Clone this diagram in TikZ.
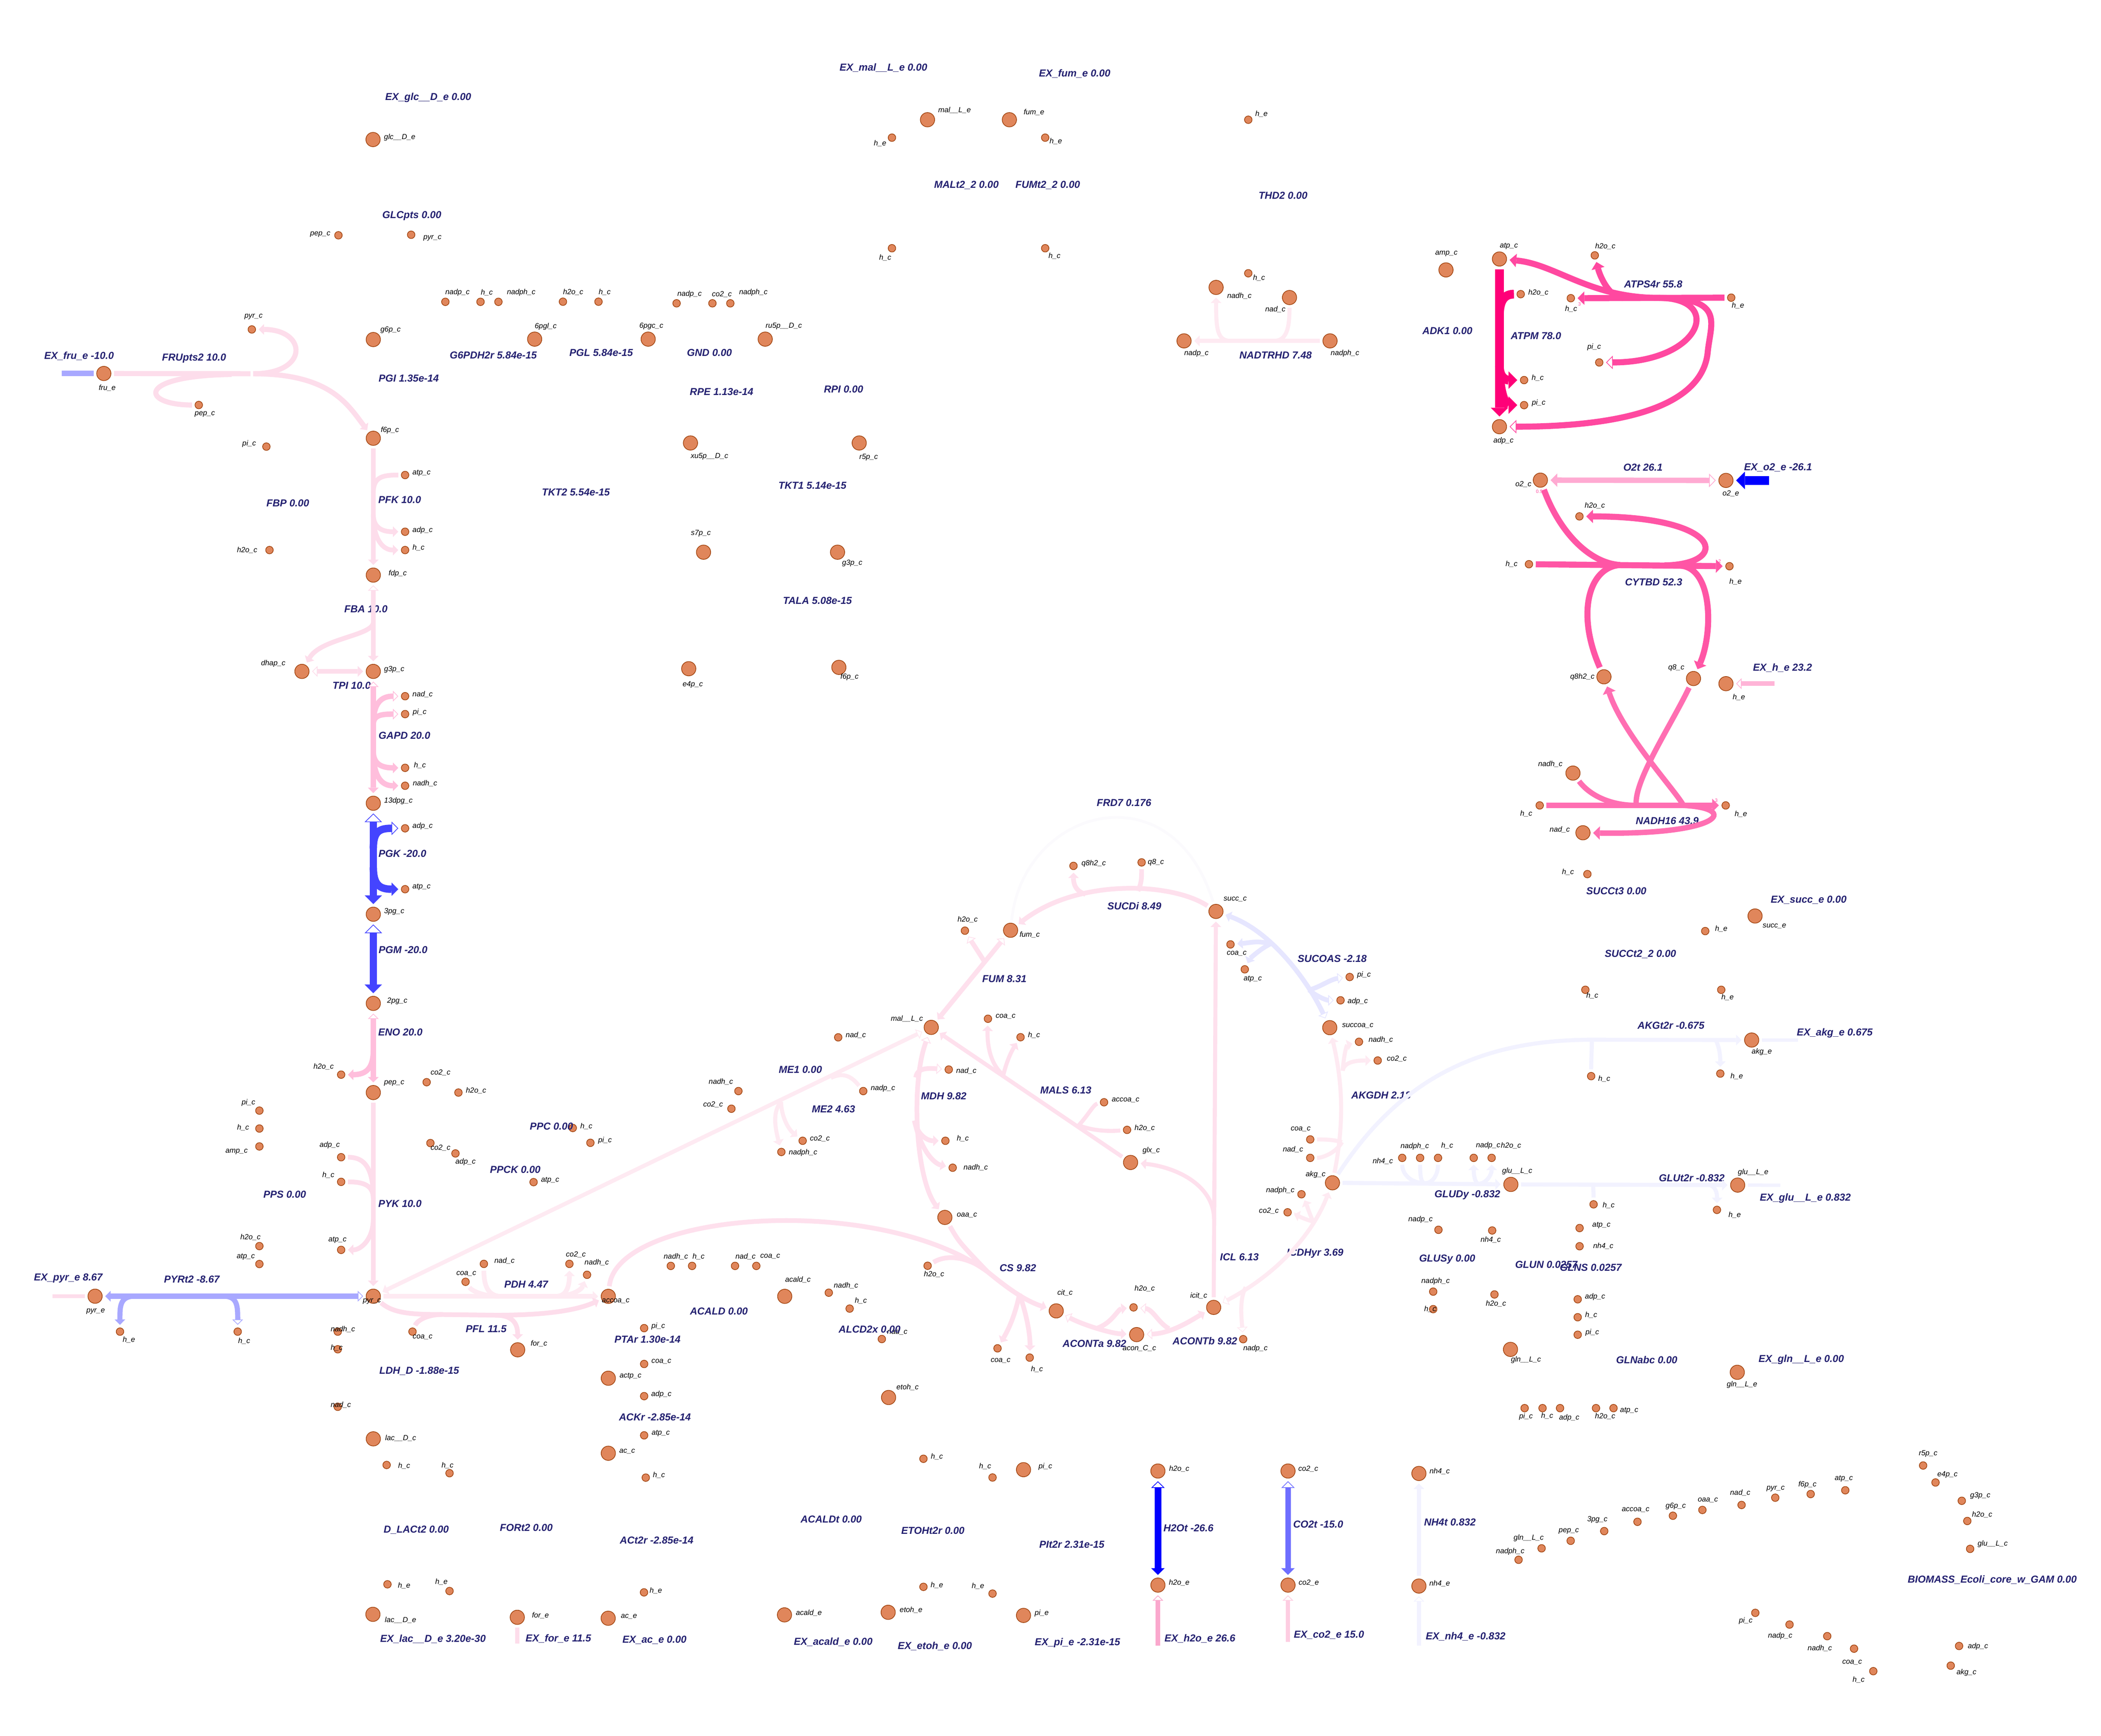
\documentclass[tikz,border=0pt]{standalone}
\usepackage{fontspec}
\setmainfont{Liberation Sans}
\usetikzlibrary{arrows.meta}

\definecolor{metfill}{RGB}{224,134,91}
\definecolor{metline}{RGB}{162,69,16}
\definecolor{rxntext}{RGB}{35,32,112}
\definecolor{pkA}{RGB}{253,221,235}
\definecolor{pkB}{RGB}{255,190,220}
\definecolor{pkC}{RGB}{254,234,242}
\definecolor{pkD}{RGB}{254,224,237}
\definecolor{lavA}{RGB}{168,168,255}
\definecolor{lavB}{RGB}{230,230,255}
\definecolor{lavC}{RGB}{242,242,255}
\definecolor{blueA}{RGB}{68,68,255}
\definecolor{blueB}{RGB}{0,0,255}
\definecolor{blueC}{RGB}{110,110,255}
\definecolor{dpink}{RGB}{255,0,120}
\definecolor{pinkATPS}{RGB}{255,72,160}
\definecolor{pinkCYT}{RGB}{255,85,165}
\definecolor{pinkNADH}{RGB}{255,110,178}
\definecolor{pinkO2}{RGB}{255,170,210}
\definecolor{pinkEXh}{RGB}{255,180,215}
\definecolor{pinkEXhtwo}{RGB}{250,168,205}
\definecolor{pinkEXco}{RGB}{253,205,225}
\definecolor{faint}{RGB}{251,250,253}

\tikzset{
  met/.style={circle, draw=metline, fill=metfill, line width=0.5pt, minimum size=10.6pt, inner sep=0pt},
  cof/.style={met, minimum size=5.6pt},
  mlab/.style={font=\fontsize{5.5}{6}\selectfont\itshape, inner sep=0pt},
  rlab/.style={font=\fontsize{7.5}{9}\selectfont\bfseries\itshape, text=rxntext, inner sep=0pt},
  stoich/.style={font=\fontsize{3.5}{4}\selectfont, text=pinkATPS, inner sep=0pt},
  rx/.style={line width=#1, shorten >=2pt},
  sgap/.style={shorten <=2pt},
  tipF/.tip={Triangle[length=4pt, width=8pt, line width=0pt]},
  tipO/.tip={Triangle[length=4pt, width=8pt, fill=white, line width=0.5pt]},
  tipFm/.tip={Triangle[length=5pt, width=10pt, line width=0pt]},
  tipOm/.tip={Triangle[length=5pt, width=10pt, fill=white, line width=0.5pt]},
  tipFb/.tip={Triangle[length=6.5pt, width=13pt, line width=0pt]},
  tipOb/.tip={Triangle[length=6.5pt, width=13pt, fill=white, line width=0.5pt]},
}

\begin{document}
\begin{tikzpicture}[x=1pt, y=-1pt]
  \def\gx{277.2}
  \fill[white] (0,0) rectangle (1560.1,1288.7);
  \useasboundingbox (0,0) rectangle (1560.1,1288.7);

  % Uptake section: nodes
  \node[met] (glcE) at (277,103.6) {}; \node[mlab] (glcE-t) at (296.8,101.9) {glc\_\_D\_e};
  \node[cof] (glc-pep) at (251.3,174.7) {}; \node[mlab] (glc-pep-t) at (237.8,173.9) {pep\_c};
  \node[cof] (glc-pyr) at (305.3,174.3) {}; \node[mlab] (glc-pyr-t) at (321.1,176.8) {pyr\_c};
  \node[met] (g6p) at (\gx,252.1) {}; \node[mlab] (g6p-t) at (290,245) {g6p\_c};
  \node[met] (fruE) at (77.1,277.3) {}; \node[mlab] (fruE-t) at (79.6,288) {fru\_e};
  \node[cof] (fru-pyr) at (187,244.6) {}; \node[mlab] (fru-pyr-t) at (188.3,235) {pyr\_c};
  \node[cof] (fru-pep) at (147.6,300.7) {}; \node[mlab] (fru-pep-t) at (152.1,307.4) {pep\_c};
  \node[met] (f6p) at (\gx,325.4) {}; \node[mlab] (f6p-t) at (289.5,319.5) {f6p\_c};
  \node[rlab] (exglc-r) at (318,72.6) {EX\_glc\_\_D\_e 0.00};
  \node[rlab] (glcpts-r) at (305.8,160.3) {GLCpts 0.00};
  \node[rlab] (exfru-r) at (58.7,264.3) {EX\_fru\_e -10.0};
  \node[rlab] (frupts-r) at (144.1,266) {FRUpts2 10.0};
  \node[rlab] (pgi-r) at (303.5,280.8) {PGI 1.35e-14};

  % Pentose phosphate section: nodes
  \node[cof] (g6pdh-nadp) at (330.7,224.1) {}; \node[mlab] (g6pdh-nadp-t) at (339.7,217.2) {nadp\_c};
  \node[cof] (g6pdh-h) at (356.8,224.1) {}; \node[mlab] (g6pdh-h-t) at (361.5,217.2) {h\_c};
  \node[cof] (g6pdh-nadph) at (370.1,224.1) {}; \node[mlab] (g6pdh-nadph-t) at (387,217.2) {nadph\_c};
  \node[cof] (pgl-h2o) at (418,224) {}; \node[mlab] (pgl-h2o-t) at (425.6,216.9) {h2o\_c};
  \node[cof] (pgl-h) at (444.4,224) {}; \node[mlab] (pgl-h-t) at (449,216.9) {h\_c};
  \node[cof] (gnd-nadp) at (502.4,225.2) {}; \node[mlab] (gnd-nadp-t) at (512,218.4) {nadp\_c};
  \node[cof] (gnd-co2) at (529,225.2) {}; \node[mlab] (gnd-co2-t) at (536,218.4) {co2\_c};
  \node[cof] (gnd-nadph) at (542.3,225.2) {}; \node[mlab] (gnd-nadph-t) at (559.4,217) {nadph\_c};
  \node[met] (pgl6) at (397,251.8) {}; \node[mlab] (pgl6-t) at (405.2,242.3) {6pgl\_c};
  \node[met] (pgc6) at (481.3,251.8) {}; \node[mlab] (pgc6-t) at (483.6,242.3) {6pgc\_c};
  \node[met] (ru5p) at (568.2,251.8) {}; \node[mlab] (ru5p-t) at (582,242.3) {ru5p\_\_D\_c};
  \node[met] (xu5p) at (512.7,328.9) {}; \node[mlab] (xu5p-t) at (526.8,338.9) {xu5p\_\_D\_c};
  \node[met] (r5p) at (638,328.9) {}; \node[mlab] (r5p-t) at (645,339.4) {r5p\_c};
  \node[met] (s7p) at (522.4,410) {}; \node[mlab] (s7p-t) at (520.4,396) {s7p\_c};
  \node[met] (tk-g3p) at (621.9,410) {}; \node[mlab] (tk-g3p-t) at (632.8,418) {g3p\_c};
  \node[met] (e4p) at (511.4,496.5) {}; \node[mlab] (e4p-t) at (514.4,508.4) {e4p\_c};
  \node[met] (ta-f6p) at (622.9,495.5) {}; \node[mlab] (ta-f6p-t) at (630.8,502.5) {f6p\_c};
  \node[rlab] (g6pdh-r) at (366.3,263.8) {G6PDH2r 5.84e-15};
  \node[rlab] (pgl-r) at (446.4,261.9) {PGL 5.84e-15};
  \node[rlab] (gnd-r) at (526.8,261.9) {GND 0.00};
  \node[rlab] (rpe-r) at (535.8,291) {RPE 1.13e-14};
  \node[rlab] (rpi-r) at (626.4,289) {RPI 0.00};
  \node[rlab] (tkt2-r) at (427.6,365.3) {TKT2 5.54e-15};
  \node[rlab] (tkt1-r) at (603.3,360.5) {TKT1 5.14e-15};
  \node[rlab] (tala-r) at (607,445.8) {TALA 5.08e-15};

  % Malate and fumarate exchange: nodes
  \node[met] (malE) at (688.7,88.9) {}; \node[mlab] (malE-t) at (708.8,81.8) {mal\_\_L\_e};
  \node[cof] (malt-he) at (662.3,102.2) {}; \node[mlab] (malt-he-t) at (653.5,106.5) {h\_e};
  \node[met] (fumE) at (749.5,88.9) {}; \node[mlab] (fumE-t) at (767.8,83.4) {fum\_e};
  \node[cof] (fumt-he) at (776.1,102.2) {}; \node[mlab] (fumt-he-t) at (784,105) {h\_e};
  \node[cof] (malt-hc) at (662.3,184.3) {}; \node[mlab] (malt-hc-t) at (657.3,191.3) {h\_c};
  \node[cof] (fumt-hc) at (776.1,184.3) {}; \node[mlab] (fumt-hc-t) at (783,190) {h\_c};
  \node[rlab] (exmal-r) at (656,50.2) {EX\_mal\_\_L\_e 0.00};
  \node[rlab] (exfum-r) at (798,54.7) {EX\_fum\_e 0.00};
  \node[rlab] (malt-r) at (717.6,137.6) {MALt2\_2 0.00};
  \node[rlab] (fumt-r) at (778,137.6) {FUMt2\_2 0.00};

  % Energy section: nodes
  \node[cof] (thd-he) at (926.9,88.9) {}; \node[mlab] (thd-he-t) at (936.7,84.6) {h\_e};
  \node[cof] (thd-hc) at (926.9,202.9) {}; \node[mlab] (thd-hc-t) at (934.9,206.4) {h\_c};
  \node[met] (nadh) at (903,213.4) {}; \node[mlab] (nadh-t) at (920.3,219.7) {nadh\_c};
  \node[met] (nad) at (957.5,220.9) {}; \node[mlab] (nad-t) at (947,229.7) {nad\_c};
  \node[met] (nadp) at (879.2,253.1) {}; \node[mlab] (nadp-t) at (888.4,262.4) {nadp\_c};
  \node[met] (nadph) at (987.6,253.1) {}; \node[mlab] (nadph-t) at (998.7,262.4) {nadph\_c};
  \node[met] (amp) at (1073.7,200.4) {}; \node[mlab] (amp-t) at (1074,188.3) {amp\_c};
  \node[met] (atp) at (1113.4,192.3) {}; \node[mlab] (atp-t) at (1120.4,182.8) {atp\_c};
  \node[cof] (atpm-h2o) at (1129.2,218.4) {}; \node[mlab] (atpm-h2o-t) at (1142.3,217.2) {h2o\_c};
  \node[cof] (atpm-h) at (1131.7,282.2) {}; \node[mlab] (atpm-h-t) at (1141.8,280.7) {h\_c};
  \node[cof] (atpm-pi) at (1131.7,300.8) {}; \node[mlab] (atpm-pi-t) at (1142.5,299.3) {pi\_c};
  \node[met] (adp) at (1113.4,316.8) {}; \node[mlab] (adp-t) at (1116.4,327.4) {adp\_c};
  \node[cof] (atps-h2o) at (1184.2,189.6) {}; \node[mlab] (atps-h2o-t) at (1192,182.8) {h2o\_c};
  \node[cof] (atps-hc) at (1166.4,221.4) {}; \node[mlab] (atps-hc-t) at (1166.6,229.5) {h\_c};
  \node[cof] (atps-pi) at (1187.5,269.1) {}; \node[mlab] (atps-pi-t) at (1183.7,257.8) {pi\_c};
  \node[cof] (atps-he) at (1285.5,221) {}; \node[mlab] (atps-he-t) at (1290.5,227) {h\_e};
  \node[stoich] (atps-n) at (1172.9,225.7) {3};
  \node[rlab] (thd-r) at (952.7,145.1) {THD2 0.00};
  \node[rlab] (ntr-r) at (947.2,263.6) {NADTRHD 7.48};
  \node[rlab] (adk-r) at (1074.8,245.5) {ADK1 0.00};
  \node[rlab] (atpm-r) at (1140.5,249.3) {ATPM 78.0};
  \node[rlab] (atps-r-t) at (1227.6,211.1) {ATPS4r 55.8};

  % Respiration section: nodes
  \node[met] (o2C) at (1143.8,356.5) {}; \node[mlab] (o2C-t) at (1131.2,359.5) {o2\_c};
  \node[stoich] (o2-n) at (1143,365) {0.5};
  \node[met] (o2E) at (1281.6,356.7) {}; \node[mlab] (o2E-t) at (1285.2,366.5) {o2\_e};
  \node[cof] (cyt-h2o) at (1172.8,383.4) {}; \node[mlab] (cyt-h2o-t) at (1184.2,375.3) {h2o\_c};
  \node[cof] (cyt-hc) at (1135.3,418.9) {}; \node[mlab] (cyt-hc-t) at (1122.4,418.9) {h\_c};
  \node[cof] (cyt-he) at (1284.2,420.4) {}; \node[mlab] (cyt-he-t) at (1288.7,432) {h\_e};
  \node[stoich] (cyt-n) at (1276.9,416.7) {2};
  \node[met] (q8h2) at (1191,502.5) {}; \node[mlab] (q8h2-t) at (1175,502.5) {q8h2\_c};
  \node[met] (q8) at (1257.5,503.8) {}; \node[mlab] (q8-t) at (1244.7,496) {q8\_c};
  \node[met] (hE) at (1281.6,507.6) {}; \node[mlab] (hE-t) at (1291.2,517.6) {h\_e};
  \node[met] (nadh16-nadh) at (1168,574) {}; \node[mlab] (nadh16-nadh-t) at (1151.2,567.2) {nadh\_c};
  \node[cof] (nadh16-hc) at (1143.3,598) {}; \node[mlab] (nadh16-hc-t) at (1133.3,604) {h\_c};
  \node[met] (nadh16-nad) at (1175.4,618.3) {}; \node[mlab] (nadh16-nad-t) at (1158.2,616) {nad\_c};
  \node[cof] (nadh16-he) at (1281.4,598) {}; \node[mlab] (nadh16-he-t) at (1292.7,604.5) {h\_e};
  \node[stoich] (nadh16-n) at (1274.4,594.3) {3};
  \node[rlab] (o2t-r) at (1220,347.1) {O2t 26.1};
  \node[rlab] (exo2-r) at (1320.3,347.1) {EX\_o2\_e -26.1};
  \node[rlab] (cyt-r) at (1227.9,432.2) {CYTBD 52.3};
  \node[rlab] (exh-r) at (1323.6,496) {EX\_h\_e 23.2};
  \node[rlab] (nadh16-r) at (1238,609.3) {NADH16 43.9};

  % Organic acid transport: nodes
  \node[cof] (succt3-hc) at (1178.7,649) {}; \node[mlab] (succt3-hc-t) at (1164.3,647.4) {h\_c};
  \node[met] (succE) at (1303.2,680.1) {}; \node[mlab] (succE-t) at (1317.6,687.6) {succ\_e};
  \node[cof] (succt3-he) at (1266.2,691.3) {}; \node[mlab] (succt3-he-t) at (1278.1,689.7) {h\_e};
  \node[cof] (succt2-hc) at (1177.2,734.9) {}; \node[mlab] (succt2-hc-t) at (1182.3,739.3) {h\_c};
  \node[cof] (succt2-he) at (1278.1,734.9) {}; \node[mlab] (succt2-he-t) at (1282.8,740.6) {h\_e};
  \node[met] (akgE) at (1300.7,772.2) {}; \node[mlab] (akgE-t) at (1308.2,781) {akg\_e};
  \node[cof] (akgt-hc) at (1181.5,799) {}; \node[mlab] (akgt-hc-t) at (1191.2,801) {h\_c};
  \node[cof] (akgt-he) at (1277.4,797.1) {}; \node[mlab] (akgt-he-t) at (1289.6,799) {h\_e};
  \node[rlab] (succt3-r) at (1200.2,661.4) {SUCCt3 0.00};
  \node[rlab] (exsucc-r) at (1343,668.2) {EX\_succ\_e 0.00};
  \node[rlab] (succt2-r) at (1218.1,708.4) {SUCCt2\_2 0.00};
  \node[rlab] (akgt-r) at (1240.8,761.3) {AKGt2r -0.675};
  \node[rlab] (exakg-r) at (1362.4,767) {EX\_akg\_e 0.675};

  % Glycolysis section: nodes
  \node[cof] (fbp-pi) at (197.8,331.6) {}; \node[mlab] (fbp-pi-t) at (185,329.6) {pi\_c};
  \node[cof] (fbp-h2o) at (200.1,408.4) {}; \node[mlab] (fbp-h2o-t) at (183.5,408.4) {h2o\_c};
  \node[cof] (pfk-atp) at (300.8,352.7) {}; \node[mlab] (pfk-atp-t) at (313,351.2) {atp\_c};
  \node[cof] (pfk-adp) at (300.8,394.8) {}; \node[mlab] (pfk-adp-t) at (313.8,393.6) {adp\_c};
  \node[cof] (pfk-h) at (300.8,408.4) {}; \node[mlab] (pfk-h-t) at (310.8,406.6) {h\_c};
  \node[met] (fdp) at (\gx,427) {}; \node[mlab] (fdp-t) at (295.3,426) {fdp\_c};
  \node[met] (dhap) at (224.2,498.5) {}; \node[mlab] (dhap-t) at (202.9,492.8) {dhap\_c};
  \node[met] (g3p) at (\gx,498.5) {}; \node[mlab] (g3p-t) at (292.7,497) {g3p\_c};
  \node[cof] (gapd-nad) at (300.8,516.9) {}; \node[mlab] (gapd-nad-t) at (313.8,515.4) {nad\_c};
  \node[cof] (gapd-pi) at (300.8,530.2) {}; \node[mlab] (gapd-pi-t) at (311.6,528.7) {pi\_c};
  \node[cof] (gapd-h) at (300.8,570.1) {}; \node[mlab] (gapd-h-t) at (311.8,568.3) {h\_c};
  \node[cof] (gapd-nadh) at (300.8,583.4) {}; \node[mlab] (gapd-nadh-t) at (315.6,581.6) {nadh\_c};
  \node[met] (dpg13) at (\gx,596.4) {}; \node[mlab] (dpg13-t) at (295.8,594.7) {13dpg\_c};
  \node[cof] (pgk-adp) at (300.8,615) {}; \node[mlab] (pgk-adp-t) at (313.8,613.5) {adp\_c};
  \node[cof] (pgk-atp) at (300.8,660.2) {}; \node[mlab] (pgk-atp-t) at (313,658.7) {atp\_c};
  \node[met] (pg3) at (\gx,678.8) {}; \node[mlab] (pg3-t) at (292.7,676.8) {3pg\_c};
  \node[met] (pg2) at (\gx,745) {}; \node[mlab] (pg2-t) at (295,743.2) {2pg\_c};
  \node[cof] (eno-h2o) at (253.3,797.9) {}; \node[mlab] (eno-h2o-t) at (240.3,791.9) {h2o\_c};
  \node[met] (pep) at (\gx,811.2) {}; \node[mlab] (pep-t) at (292.7,804.2) {pep\_c};
  \node[rlab] (fbp-r) at (213.7,373.5) {FBP 0.00};
  \node[rlab] (pfk-r) at (296.8,371.2) {PFK 10.0};
  \node[rlab] (fba-r) at (271.7,452.3) {FBA 10.0};
  \node[rlab] (tpi-r) at (261.1,509) {TPI 10.0};
  \node[rlab] (gapd-r) at (300.3,546.2) {GAPD 20.0};
  \node[rlab] (pgk-r) at (298.8,633.9) {PGK -20.0};
  \node[rlab] (pgm-r) at (299.3,705.1) {PGM -20.0};
  \node[rlab] (eno-r) at (297.3,766.3) {ENO 20.0};

  % Pyruvate section: nodes
  \node[cof] (ppc-co2) at (316.8,803.5) {}; \node[mlab] (ppc-co2-t) at (327.1,796.4) {co2\_c};
  \node[cof] (ppc-h2o) at (340.4,811.2) {}; \node[mlab] (ppc-h2o-t) at (353.5,809.7) {h2o\_c};
  \node[cof] (ppc-h) at (425.3,837.5) {}; \node[mlab] (ppc-h-t) at (435.4,836.2) {h\_c};
  \node[cof] (ppc-pi) at (438.4,848.5) {}; \node[mlab] (ppc-pi-t) at (449.2,846.8) {pi\_c};
  \node[cof] (ppck-co2) at (319.6,848.7) {}; \node[mlab] (ppck-co2-t) at (327.1,852.2) {co2\_c};
  \node[cof] (ppck-adp) at (338.2,856.4) {}; \node[mlab] (ppck-adp-t) at (345.7,862.7) {adp\_c};
  \node[cof] (ppck-atp) at (396.2,877.7) {}; \node[mlab] (ppck-atp-t) at (408.5,876.2) {atp\_c};
  \node[cof] (pps-pi) at (192.6,824.6) {}; \node[mlab] (pps-pi-t) at (184.5,818.8) {pi\_c};
  \node[cof] (pps-h) at (192.6,837.9) {}; \node[mlab] (pps-h-t) at (180.5,837.1) {h\_c};
  \node[cof] (pps-amp) at (192.6,851.2) {}; \node[mlab] (pps-amp-t) at (175.7,855) {amp\_c};
  \node[cof] (pps-h2o) at (192.6,925.2) {}; \node[mlab] (pps-h2o-t) at (186,918.7) {h2o\_c};
  \node[cof] (pps-atp) at (192.6,938.5) {}; \node[mlab] (pps-atp-t) at (182.5,933) {atp\_c};
  \node[cof] (pyk-adp) at (253.3,859.2) {}; \node[mlab] (pyk-adp-t) at (244.8,850.2) {adp\_c};
  \node[cof] (pyk-h) at (253.3,877.5) {}; \node[mlab] (pyk-h-t) at (243.8,872.5) {h\_c};
  \node[cof] (pyk-atp) at (253.3,928) {}; \node[mlab] (pyk-atp-t) at (250.6,920.7) {atp\_c};
  \node[met] (pyr) at (\gx,962.4) {}; \node[mlab] (pyr-t) at (276.2,966.2) {pyr\_c};
  \node[met] (pyrE) at (70.6,962.4) {}; \node[mlab] (pyrE-t) at (71,973.7) {pyr\_e};
  \node[cof] (pyrt-he) at (89.1,988.7) {}; \node[mlab] (pyrt-he-t) at (95.7,994.8) {h\_e};
  \node[cof] (pyrt-hc) at (176.5,988.7) {}; \node[mlab] (pyrt-hc-t) at (181.3,995.8) {h\_c};
  \node[cof] (ldh-nadh) at (250.8,988.7) {}; \node[mlab] (ldh-nadh-t) at (254.6,987) {nadh\_c};
  \node[cof] (ldh-h) at (250.8,1001.8) {}; \node[mlab] (ldh-h-t) at (250,1000.8) {h\_c};
  \node[cof] (ldh-nad) at (250.8,1044.5) {}; \node[mlab] (ldh-nad-t) at (253.1,1043) {nad\_c};
  \node[met] (lac) at (\gx,1068.3) {}; \node[mlab] (lac-t) at (297.5,1067.8) {lac\_\_D\_c};
  \node[cof] (dlac-hc) at (287.1,1087.7) {}; \node[mlab] (dlac-hc-t) at (300.1,1088.5) {h\_c};
  \node[cof] (fort-hc) at (333.8,1093.8) {}; \node[mlab] (fort-hc-t) at (332.3,1087.9) {h\_c};
  \node[cof] (dlac-he) at (287.7,1176.3) {}; \node[mlab] (dlac-he-t) at (300.1,1177.4) {h\_e};
  \node[cof] (fort-he) at (333.8,1181.3) {}; \node[mlab] (fort-he-t) at (327.8,1174.5) {h\_e};
  \node[met] (lacE) at (276.9,1198.6) {}; \node[mlab] (lacE-t) at (297.4,1202.8) {lac\_\_D\_e};
  \node[cof] (pfl-coa) at (306.3,988.7) {}; \node[mlab] (pfl-coa-t) at (313.8,992.8) {coa\_c};
  \node[met] (forC) at (384.4,1002.2) {}; \node[mlab] (forC-t) at (400.2,997.7) {for\_c};
  \node[met] (forE) at (384.1,1200.8) {}; \node[mlab] (forE-t) at (401.3,1199.3) {for\_e};
  \node[rlab] (ppc-r) at (409.5,836.2) {PPC 0.00};
  \node[rlab] (ppck-r) at (382.6,868.4) {PPCK 0.00};
  \node[rlab] (pps-r) at (211.4,886.8) {PPS 0.00};
  \node[rlab] (pyk-r) at (297,893.6) {PYK 10.0};
  \node[rlab] (expyr-r) at (50.7,949.1) {EX\_pyr\_e 8.67};
  \node[rlab] (pyrt-r) at (142.4,949.8) {PYRt2 -8.67};
  \node[rlab] (ldh-r) at (311.3,1018.1) {LDH\_D -1.88e-15};
  \node[rlab] (dlac-r) at (309.1,1135.9) {D\_LACt2 0.00};
  \node[rlab] (fort-r) at (390.8,1134.2) {FORt2 0.00};
  \node[rlab] (exlac-r) at (321.5,1217) {EX\_lac\_\_D\_e 3.20e-30};
  \node[rlab] (exfor-r) at (414.6,1216.6) {EX\_for\_e 11.5};

  % Fermentation section: nodes
  \node[cof] (pdh-coa) at (345.7,951.7) {}; \node[mlab] (pdh-coa-t) at (346.2,945.6) {coa\_c};
  \node[cof] (pdh-nad) at (359.3,938.4) {}; \node[mlab] (pdh-nad-t) at (374.6,936.2) {nad\_c};
  \node[cof] (pdh-co2) at (422.8,938.4) {}; \node[mlab] (pdh-co2-t) at (427.6,931.6) {co2\_c};
  \node[cof] (pdh-nadh) at (435.9,946.5) {}; \node[mlab] (pdh-nadh-t) at (443.1,937.2) {nadh\_c};
  \node[met] (accoa) at (451.7,962.5) {}; \node[mlab] (accoa-t) at (457.2,965.8) {accoa\_c};
  \node[cof] (pta-pi) at (478.3,986.1) {}; \node[mlab] (pta-pi-t) at (488.8,984.6) {pi\_c};
  \node[cof] (pta-coa) at (478.3,1012.7) {}; \node[mlab] (pta-coa-t) at (491.1,1011) {coa\_c};
  \node[met] (actp) at (451.7,1023.3) {}; \node[mlab] (actp-t) at (468.2,1021.8) {actp\_c};
  \node[cof] (ack-adp) at (478.3,1036.6) {}; \node[mlab] (ack-adp-t) at (491.1,1035.1) {adp\_c};
  \node[cof] (ack-atp) at (478.3,1065.7) {}; \node[mlab] (ack-atp-t) at (490.6,1064.2) {atp\_c};
  \node[met] (acC) at (451.7,1079) {}; \node[mlab] (acC-t) at (465.7,1077.5) {ac\_c};
  \node[cof] (act-hc) at (479.5,1097.1) {}; \node[mlab] (act-hc-t) at (489.3,1095.3) {h\_c};
  \node[cof] (act-he) at (478.2,1182.3) {}; \node[mlab] (act-he-t) at (487,1181) {h\_e};
  \node[met] (acE) at (451.6,1201.5) {}; \node[mlab] (acE-t) at (467,1200.4) {ac\_e};
  \node[cof] (acald-nadh) at (498.1,939.9) {}; \node[mlab] (acald-nadh-t) at (501.9,932.9) {nadh\_c};
  \node[cof] (acald-h) at (513.9,939.9) {}; \node[mlab] (acald-h-t) at (518.7,932.9) {h\_c};
  \node[cof] (acald-nad) at (545.8,939.9) {}; \node[mlab] (acald-nad-t) at (553.6,932.9) {nad\_c};
  \node[cof] (acald-coa) at (561.6,939.9) {}; \node[mlab] (acald-coa-t) at (571.9,932.9) {coa\_c};
  \node[met] (acald) at (582.7,962.5) {}; \node[mlab] (acald-t) at (592.5,950.2) {acald\_c};
  \node[cof] (alcd-nadh) at (615.4,959.8) {}; \node[mlab] (alcd-nadh-t) at (628.2,954.5) {nadh\_c};
  \node[cof] (alcd-h) at (630.9,971.6) {}; \node[mlab] (alcd-h-t) at (639.2,965.8) {h\_c};
  \node[cof] (alcd-nad) at (654.8,994.2) {}; \node[mlab] (alcd-nad-t) at (666.3,988.9) {nad\_c};
  \node[met] (etoh) at (659.8,1037.6) {}; \node[mlab] (etoh-t) at (673.9,1030.1) {etoh\_c};
  \node[met] (acaldE) at (582.5,1199) {}; \node[mlab] (acaldE-t) at (600.6,1197.5) {acald\_e};
  \node[cof] (etoht-hc) at (685.7,1083.1) {}; \node[mlab] (etoht-hc-t) at (695.7,1081.6) {h\_c};
  \node[cof] (etoht-he) at (685.7,1178.2) {}; \node[mlab] (etoht-he-t) at (695.7,1177.1) {h\_e};
  \node[met] (etohE) at (659.5,1197.1) {}; \node[mlab] (etohE-t) at (676.5,1195.5) {etoh\_e};
  \node[cof] (pit-hc) at (737,1097) {}; \node[mlab] (pit-hc-t) at (731.5,1088.6) {h\_c};
  \node[met] (piC) at (760,1091.2) {}; \node[mlab] (piC-t) at (776.2,1089) {pi\_c};
  \node[cof] (pit-he) at (737,1183.2) {}; \node[mlab] (pit-he-t) at (726.2,1177.6) {h\_e};
  \node[met] (piE) at (760,1199.4) {}; \node[mlab] (piE-t) at (773.5,1197.9) {pi\_e};
  \node[met] (h2oC) at (859.8,1092.2) {}; \node[mlab] (h2oC-t) at (875.6,1090.5) {h2o\_c};
  \node[met] (h2oE) at (859.8,1176.9) {}; \node[mlab] (h2oE-t) at (875.6,1175.2) {h2o\_e};
  \node[met] (co2C) at (956.4,1092.2) {}; \node[mlab] (co2C-t) at (971.4,1090.5) {co2\_c};
  \node[met] (co2E) at (956.4,1176.9) {}; \node[mlab] (co2E-t) at (971.8,1175.2) {co2\_e};
  \node[met] (nh4C) at (1053.6,1094) {}; \node[mlab] (nh4C-t) at (1069,1092.3) {nh4\_c};
  \node[met] (nh4E) at (1053.6,1177.6) {}; \node[mlab] (nh4E-t) at (1069,1175.8) {nh4\_e};
  \node[rlab] (pdh-r) at (390.7,953.5) {PDH 4.47};
  \node[rlab] (pfl-r) at (361,986.7) {PFL 11.5};
  \node[rlab] (pta-r) at (480.8,994.4) {PTAr 1.30e-14};
  \node[rlab] (ack-r) at (486.3,1052.2) {ACKr -2.85e-14};
  \node[rlab] (act-r) at (487.6,1143.6) {ACt2r -2.85e-14};
  \node[rlab] (exac-r) at (486,1217.6) {EX\_ac\_e 0.00};
  \node[rlab] (acald-r) at (533.8,973.6) {ACALD 0.00};
  \node[rlab] (alcd-r) at (645.7,986.9) {ALCD2x 0.00};
  \node[rlab] (acaldt-r) at (617.2,1128) {ACALDt 0.00};
  \node[rlab] (etoht-r) at (692.7,1136.4) {ETOHt2r 0.00};
  \node[rlab] (pit-r) at (795.9,1146.6) {PIt2r 2.31e-15};
  \node[rlab] (h2ot-r) at (882.5,1134.5) {H2Ot -26.6};
  \node[rlab] (co2t-r) at (978.8,1131.7) {CO2t -15.0};
  \node[rlab] (nh4t-r) at (1076.6,1130.3) {NH4t 0.832};
  \node[rlab] (exacald-r) at (618.7,1219.1) {EX\_acald\_e 0.00};
  \node[rlab] (exetoh-r) at (694.2,1222.2) {EX\_etoh\_e 0.00};
  \node[rlab] (expi-r) at (800.1,1219.8) {EX\_pi\_e -2.31e-15};
  \node[rlab] (exh2o-r) at (891,1216.6) {EX\_h2o\_e 26.6};
  \node[rlab] (exco2-r) at (986.8,1214) {EX\_co2\_e 15.0};
  \node[rlab] (exnh4-r) at (1088.3,1215.2) {EX\_nh4\_e -0.832};

  % TCA section: nodes
  \node[cof] (me1-nad) at (622.4,770.2) {}; \node[mlab] (me1-nad-t) at (635.5,768.5) {nad\_c};
  \node[cof] (me1-nadh) at (548.3,810.1) {}; \node[mlab] (me1-nadh-t) at (535.3,803.1) {nadh\_c};
  \node[cof] (me1-co2) at (543.1,823.2) {}; \node[mlab] (me1-co2-t) at (529.5,820.2) {co2\_c};
  \node[cof] (me2-nadp) at (641,810.1) {}; \node[mlab] (me2-nadp-t) at (655.6,808.1) {nadp\_c};
  \node[cof] (me2-co2) at (596,847) {}; \node[mlab] (me2-co2-t) at (608.8,845.3) {co2\_c};
  \node[cof] (me2-nadph) at (580.2,855.3) {}; \node[mlab] (me2-nadph-t) at (596.3,855.8) {nadph\_c};
  \node[met] (mal) at (691.5,762.8) {}; \node[mlab] (mal-t) at (673.4,756.4) {mal\_\_L\_c};
  \node[cof] (mdh-nad) at (704.5,794.1) {}; \node[mlab] (mdh-nad-t) at (717.5,795.1) {nad\_c};
  \node[cof] (mdh-h) at (702,847) {}; \node[mlab] (mdh-h-t) at (714.9,845.4) {h\_c};
  \node[cof] (mdh-nadh) at (707.4,867) {}; \node[mlab] (mdh-nadh-t) at (724.5,866.9) {nadh\_c};
  \node[met] (oaa) at (701.6,903.9) {}; \node[mlab] (oaa-t) at (718,902.2) {oaa\_c};
  \node[cof] (cs-h2o) at (688.8,939.8) {}; \node[mlab] (cs-h2o-t) at (693.6,946.2) {h2o\_c};
  \node[cof] (cs-coa) at (740.7,1001.1) {}; \node[mlab] (cs-coa-t) at (743,1010.3) {coa\_c};
  \node[cof] (cs-h) at (764.6,1008) {}; \node[mlab] (cs-h-t) at (770,1016.5) {h\_c};
  \node[met] (cit) at (784.3,973.3) {}; \node[mlab] (cit-t) at (790.8,959.9) {cit\_c};
  \node[cof] (acon-h2o) at (841.7,970.7) {}; \node[mlab] (acon-h2o-t) at (850,956.7) {h2o\_c};
  \node[met] (acon) at (844,990.9) {}; \node[mlab] (acon-t) at (846,1001.1) {acon\_C\_c};
  \node[met] (icit) at (901.2,970.7) {}; \node[mlab] (icit-t) at (890.1,961.9) {icit\_c};
  \node[cof] (icd-nadp) at (923.1,994.3) {}; \node[mlab] (icd-nadp-t) at (932.2,1001.1) {nadp\_c};
  \node[cof] (icd-co2) at (956.1,900.1) {}; \node[mlab] (icd-co2-t) at (942.2,899) {co2\_c};
  \node[cof] (icd-nadph) at (966.4,886.7) {}; \node[mlab] (icd-nadph-t) at (950.7,883.9) {nadph\_c};
  \node[met] (akg) at (989.4,878.2) {}; \node[mlab] (akg-t) at (976.9,872.2) {akg\_c};
  \node[cof] (akgdh-coa) at (972.9,846) {}; \node[mlab] (akgdh-coa-t) at (965.8,838.4) {coa\_c};
  \node[cof] (akgdh-nad) at (972.9,859.7) {}; \node[mlab] (akgdh-nad-t) at (960.1,853.4) {nad\_c};
  \node[cof] (akgdh-nadh) at (1009.1,773.5) {}; \node[mlab] (akgdh-nadh-t) at (1025.3,772.1) {nadh\_c};
  \node[cof] (akgdh-co2) at (1023,787.4) {}; \node[mlab] (akgdh-co2-t) at (1037.2,786) {co2\_c};
  \node[met] (succoa) at (987.4,763) {}; \node[mlab] (succoa-t) at (1008.2,761.5) {succoa\_c};
  \node[cof] (sucoas-coa) at (913.7,701.2) {}; \node[mlab] (sucoas-coa-t) at (918.3,708) {coa\_c};
  \node[cof] (sucoas-atp) at (924.3,719.7) {}; \node[mlab] (sucoas-atp-t) at (930.2,726.8) {atp\_c};
  \node[cof] (sucoas-pi) at (1002.2,725.4) {}; \node[mlab] (sucoas-pi-t) at (1012.8,723.7) {pi\_c};
  \node[cof] (sucoas-adp) at (995.4,742.7) {}; \node[mlab] (sucoas-adp-t) at (1008.2,743.6) {adp\_c};
  \node[met] (succ) at (902.9,676.7) {}; \node[mlab] (succ-t) at (917.2,667.6) {succ\_c};
  \node[cof] (sucd-q8h2) at (797.1,642.9) {}; \node[mlab] (sucd-q8h2-t) at (812.1,641.2) {q8h2\_c};
  \node[cof] (sucd-q8) at (847.7,640.3) {}; \node[mlab] (sucd-q8-t) at (858.3,640.3) {q8\_c};
  \node[met] (fum) at (750.4,690.7) {}; \node[mlab] (fum-t) at (764.6,694.1) {fum\_c};
  \node[cof] (fum-h2o) at (716.5,691) {}; \node[mlab] (fum-h2o-t) at (718.5,682.7) {h2o\_c};
  \node[cof] (mals-coa) at (733.6,756.4) {}; \node[mlab] (mals-coa-t) at (746.7,754.7) {coa\_c};
  \node[cof] (mals-h) at (757.8,770.1) {}; \node[mlab] (mals-h-t) at (767.8,768.6) {h\_c};
  \node[cof] (mals-accoa) at (819.8,818.4) {}; \node[mlab] (mals-accoa-t) at (835.8,816.7) {accoa\_c};
  \node[cof] (mals-h2o) at (836.9,838.9) {}; \node[mlab] (mals-h2o-t) at (850,837.5) {h2o\_c};
  \node[met] (glx) at (839.5,863.1) {}; \node[mlab] (glx-t) at (854.8,854.3) {glx\_c};
  \node[rlab] (me1-r) at (594.3,794.1) {ME1 0.00};
  \node[rlab] (me2-r) at (618.9,823.4) {ME2 4.63};
  \node[rlab] (mdh-r) at (700.8,813.8) {MDH 9.82};
  \node[rlab] (cs-r) at (755.8,941.4) {CS 9.82};
  \node[rlab] (acta-r) at (812.7,997.7) {ACONTa 9.82};
  \node[rlab] (actb-r) at (894.7,995.7) {ACONTb 9.82};
  \node[rlab] (icl-r) at (920.3,933.4) {ICL 6.13};
  \node[rlab] (icd-r) at (976.5,930.6) {ICDHyr 3.69};
  \node[rlab] (akgdh-r) at (1025.5,813.1) {AKGDH 2.18};
  \node[rlab] (sucoas-r) at (989.2,711.7) {SUCOAS -2.18};
  \node[rlab] (sucd-r) at (842.3,672.7) {SUCDi 8.49};
  \node[rlab] (frd-r) at (834.6,595.9) {FRD7 0.176};
  \node[rlab] (fum-r) at (745.8,726.8) {FUM 8.31};
  \node[rlab] (mals-r) at (791.4,809.3) {MALS 6.13};

  % Nitrogen section: nodes
  \node[cof] (gludy-nh4) at (1041.2,859.7) {}; \node[mlab] (gludy-nh4-t) at (1026.8,862.2) {nh4\_c};
  \node[cof] (gludy-nadph) at (1054.5,859.7) {}; \node[mlab] (gludy-nadph-t) at (1050.5,851.1) {nadph\_c};
  \node[cof] (gludy-h) at (1067.8,859.7) {}; \node[mlab] (gludy-h-t) at (1074.6,850.6) {h\_c};
  \node[cof] (gludy-nadp) at (1094.3,859.7) {}; \node[mlab] (gludy-nadp-t) at (1105,850.6) {nadp\_c};
  \node[cof] (gludy-h2o) at (1107.6,859.7) {}; \node[mlab] (gludy-h2o-t) at (1122,850.6) {h2o\_c};
  \node[met] (glu) at (1121.9,879.4) {}; \node[mlab] (glu-t) at (1126.6,869.5) {glu\_\_L\_c};
  \node[cof] (glus-nadp) at (1068.1,913.1) {}; \node[mlab] (glus-nadp-t) at (1054.8,905.3) {nadp\_c};
  \node[cof] (glun-nh4) at (1108,913.6) {}; \node[mlab] (glun-nh4-t) at (1106.9,920.4) {nh4\_c};
  \node[cof] (glus-nadph) at (1064.2,959) {}; \node[mlab] (glus-nadph-t) at (1066,951.3) {nadph\_c};
  \node[cof] (glus-h) at (1064.2,972) {}; \node[mlab] (glus-h-t) at (1062,972) {h\_c};
  \node[cof] (glun-h2o) at (1109.7,961.1) {}; \node[mlab] (glun-h2o-t) at (1110.8,967.9) {h2o\_c};
  \node[cof] (glns-atp) at (1172.9,911.8) {}; \node[mlab] (glns-atp-t) at (1189.1,909.7) {atp\_c};
  \node[cof] (glns-nh4) at (1172.9,925.3) {}; \node[mlab] (glns-nh4-t) at (1190.5,925.3) {nh4\_c};
  \node[cof] (glns-adp) at (1171.5,964.7) {}; \node[mlab] (glns-adp-t) at (1184.4,962.9) {adp\_c};
  \node[cof] (glns-h) at (1171.5,978) {}; \node[mlab] (glns-h-t) at (1181.5,976.2) {h\_c};
  \node[cof] (glns-pi) at (1171.5,991) {}; \node[mlab] (glns-pi-t) at (1182.3,989.4) {pi\_c};
  \node[met] (gln) at (1121.6,1001.9) {}; \node[mlab] (gln-t) at (1133.1,1009.6) {gln\_\_L\_c};
  \node[cof] (glut-hc) at (1183.3,894.2) {}; \node[mlab] (glut-hc-t) at (1194.5,895) {h\_c};
  \node[cof] (glut-he) at (1274.9,898.3) {}; \node[mlab] (glut-he-t) at (1288.1,902) {h\_e};
  \node[met] (gluE) at (1290.3,879.9) {}; \node[mlab] (gluE-t) at (1301.8,870.6) {glu\_\_L\_e};
  \node[cof] (glnabc-pi) at (1132.1,1045.5) {}; \node[mlab] (glnabc-pi-t) at (1133.1,1051.7) {pi\_c};
  \node[cof] (glnabc-h) at (1145.4,1045.5) {}; \node[mlab] (glnabc-h-t) at (1148.8,1051.3) {h\_c};
  \node[cof] (glnabc-adp) at (1158.4,1045.5) {}; \node[mlab] (glnabc-adp-t) at (1165.2,1052.8) {adp\_c};
  \node[cof] (glnabc-h2o) at (1185.1,1045.5) {}; \node[mlab] (glnabc-h2o-t) at (1191.9,1051.7) {h2o\_c};
  \node[cof] (glnabc-atp) at (1198.1,1045.5) {}; \node[mlab] (glnabc-atp-t) at (1209.7,1047.2) {atp\_c};
  \node[met] (glnE) at (1290,1018.9) {}; \node[mlab] (glnE-t) at (1293.5,1028) {gln\_\_L\_e};
  \node[rlab] (gludy-r) at (1089.6,887.2) {GLUDy -0.832};
  \node[rlab] (glus-r) at (1074.6,934.9) {GLUSy 0.00};
  \node[rlab] (glun-r) at (1148.2,938.8) {GLUN 0.0257};
  \node[rlab] (glns-r) at (1181.2,941.1) {GLNS 0.0257};
  \node[rlab] (glut-r) at (1256.2,874.7) {GLUt2r -0.832};
  \node[rlab] (exglu-r) at (1340.5,889.5) {EX\_glu\_\_L\_e 0.832};
  \node[rlab] (glnabc-r) at (1222.8,1009.6) {GLNabc 0.00};
  \node[rlab] (exgln-r) at (1337.5,1009.3) {EX\_gln\_\_L\_e 0.00};

  % Biomass section: nodes
  \node[cof] (bio-r5p) at (1428,1088.1) {}; \node[mlab] (bio-r5p-t) at (1431.7,1079.3) {r5p\_c};
  \node[cof] (bio-e4p) at (1437.2,1100.7) {}; \node[mlab] (bio-e4p-t) at (1446.1,1095) {e4p\_c};
  \node[cof] (bio-g3p) at (1456.7,1114.3) {}; \node[mlab] (bio-g3p-t) at (1470.4,1110.4) {g3p\_c};
  \node[cof] (bio-h2o) at (1460.8,1129.3) {}; \node[mlab] (bio-h2o-t) at (1471.8,1124.7) {h2o\_c};
  \node[cof] (bio-glu) at (1462.9,1150) {}; \node[mlab] (bio-glu-t) at (1479.6,1146.2) {glu\_\_L\_c};
  \node[cof] (bio-atp) at (1370.2,1106.5) {}; \node[mlab] (bio-atp-t) at (1369.1,1097.9) {atp\_c};
  \node[cof] (bio-f6p) at (1344.5,1109.3) {}; \node[mlab] (bio-f6p-t) at (1342.1,1102.4) {f6p\_c};
  \node[cof] (bio-pyr) at (1318.2,1112) {}; \node[mlab] (bio-pyr-t) at (1318.5,1105.2) {pyr\_c};
  \node[cof] (bio-nad) at (1293.2,1117.4) {}; \node[mlab] (bio-nad-t) at (1292.2,1108.3) {nad\_c};
  \node[cof] (bio-oaa) at (1264.1,1121.1) {}; \node[mlab] (bio-oaa-t) at (1268.2,1113.9) {oaa\_c};
  \node[cof] (bio-g6p) at (1242.2,1125.4) {}; \node[mlab] (bio-g6p-t) at (1244.3,1118.2) {g6p\_c};
  \node[cof] (bio-accoa) at (1215.9,1129.9) {}; \node[mlab] (bio-accoa-t) at (1214.5,1121.1) {accoa\_c};
  \node[cof] (bio-pg3) at (1191.2,1136.8) {}; \node[mlab] (bio-pg3-t) at (1186.1,1128.4) {3pg\_c};
  \node[cof] (bio-pep) at (1166.3,1144) {}; \node[mlab] (bio-pep-t) at (1164.9,1136.8) {pep\_c};
  \node[cof] (bio-gln) at (1144.7,1149.6) {}; \node[mlab] (bio-gln-t) at (1135.1,1142) {gln\_\_L\_c};
  \node[cof] (bio-nadph) at (1127.6,1158.1) {}; \node[mlab] (bio-nadph-t) at (1121.4,1152) {nadph\_c};
  \node[cof] (bio-pi) at (1303.4,1197.5) {}; \node[mlab] (bio-pi-t) at (1296.3,1203.3) {pi\_c};
  \node[cof] (bio-nadp) at (1328.8,1206.2) {}; \node[mlab] (bio-nadp-t) at (1321.9,1214.8) {nadp\_c};
  \node[cof] (bio-nadh) at (1356.8,1214.8) {}; \node[mlab] (bio-nadh-t) at (1351.3,1223.7) {nadh\_c};
  \node[cof] (bio-coa) at (1376.7,1224.1) {}; \node[mlab] (bio-coa-t) at (1375.3,1234.3) {coa\_c};
  \node[cof] (bio-h) at (1391,1240.8) {}; \node[mlab] (bio-h-t) at (1380.1,1247.3) {h\_c};
  \node[cof] (bio-adp) at (1454.7,1222.1) {}; \node[mlab] (bio-adp-t) at (1468.7,1222.6) {adp\_c};
  \node[cof] (bio-akg) at (1448.5,1236.7) {}; \node[mlab] (bio-akg-t) at (1460.2,1241.7) {akg\_c};
  \node[rlab] (bio-r) at (1479.3,1173) {BIOMASS\_Ecoli\_core\_w\_GAM 0.00};

  % Uptake section: connections
  \coordinate (exfru-c) at (46,277.3);
  \coordinate (fru-m) at (188,277.5);
  \coordinate (fru-b) at (172,278);
  \draw[rx=4pt, lavA] (exfru-c) -- (fruE);
  \draw[rx=3.8pt, pkA, sgap] (fruE) -- (fru-m);
  \draw[rx=3.8pt, pkA, -tipF] (fru-m) .. controls (230,277.5) and (228,244.6) .. (fru-pyr);
  \draw[rx=3.8pt, pkA] (fru-b) .. controls (100,279) and (105,300.7) .. (fru-pep);
  \draw[rx=3.8pt, pkA, -tipF] (fru-m) .. controls (245,277.5) and (258,300) .. (f6p);

  % Glycolysis section: connections
  \coordinate (pfk-m1) at (\gx,366);
  \coordinate (pfk-m2) at (\gx,382);
  \draw[rx=3.5pt, pkA, sgap, -tipF] (f6p) -- (fdp);
  \draw[rx=3.5pt, pkA] (pfk-m1) .. controls (\gx,354) and (284,352.7) .. (pfk-atp);
  \draw[rx=3.5pt, pkA, -tipF] (pfk-m2) .. controls (\gx,392) and (284,394.8) .. (pfk-adp);
  \draw[rx=3.5pt, pkA, -tipF] (pfk-m2) .. controls (\gx,400) and (284,408.4) .. (pfk-h);
  \coordinate (fba-m) at (\gx,462);
  \draw[rx=3.5pt, pkA, sgap, tipO-tipF] (fdp) -- (g3p);
  \draw[rx=3.5pt, pkA, -tipF] (fba-m) .. controls (\gx,472) and (238,474) .. (dhap);
  \draw[rx=3.5pt, pkA, sgap, tipO-tipF] (dhap) -- (g3p);
  \coordinate (gapd-m1) at (\gx,538);
  \coordinate (gapd-m2) at (\gx,558);
  \draw[rx=4pt, pkB, sgap, tipO-tipF] (g3p) -- (dpg13);
  \draw[rx=4pt, pkB, -tipO] (gapd-m1) .. controls (\gx,522) and (283,516.9) .. (gapd-nad);
  \draw[rx=4pt, pkB, -tipO] (gapd-m1) .. controls (\gx,531) and (283,530.2) .. (gapd-pi);
  \draw[rx=4pt, pkB, -tipF] (gapd-m2) .. controls (\gx,567) and (283,570.1) .. (gapd-h);
  \draw[rx=4pt, pkB, -tipF] (gapd-m2) .. controls (\gx,576) and (283,583.4) .. (gapd-nadh);
  \coordinate (pgk-m1) at (\gx,630);
  \coordinate (pgk-m2) at (\gx,644);
  \draw[rx=5.5pt, blueA, sgap, tipOb-tipFb] (dpg13) -- (pg3);
  \draw[rx=5.5pt, blueA, -tipOm] (pgk-m1) .. controls (\gx,617) and (282,615) .. (pgk-adp);
  \draw[rx=5.5pt, blueA, -tipFm] (pgk-m2) .. controls (\gx,657) and (282,660.2) .. (pgk-atp);
  \draw[rx=5.5pt, blueA, sgap, tipOb-tipFb] (pg3) -- (pg2);
  \coordinate (eno-m) at (\gx,780);
  \draw[rx=4pt, pkB, sgap, tipO-tipF] (pg2) -- (pep);
  \draw[rx=4pt, pkB, -tipF] (eno-m) .. controls (\gx,793) and (272,797.9) .. (eno-h2o);
  \coordinate (pyk-m1) at (\gx,890);
  \coordinate (pyk-m2) at (\gx,905);
  \draw[rx=3.5pt, pkA, sgap, -tipF] (pep) -- (pyr);
  \draw[rx=3.5pt, pkA] (pyk-m1) .. controls (\gx,866) and (270,859.2) .. (pyk-adp);
  \draw[rx=3.5pt, pkA] (pyk-m1) .. controls (\gx,880) and (270,877.5) .. (pyk-h);
  \draw[rx=3.5pt, pkA, -tipF] (pyk-m2) .. controls (\gx,920) and (268,928) .. (pyk-atp);

  % Pyruvate section: connections
  \coordinate (pyrt-m1) at (100,962.4);
  \coordinate (pyrt-m2) at (166,962.4);
  \coordinate (expyr-c) at (38.9,962.4);
  \draw[rx=3.8pt, lavA, sgap, tipO-tipF] (pyr) -- (pyrE);
  \draw[rx=3.8pt, lavA, -tipF] (pyrt-m1) .. controls (89,962.4) and (89,970) .. (pyrt-he);
  \draw[rx=3.8pt, lavA, -tipO] (pyrt-m2) .. controls (176.5,962.4) and (176.5,970) .. (pyrt-hc);
  \draw[rx=3pt, pkA] (expyr-c) -- (pyrE);
  \coordinate (pdh-m1) at (370,962.4);
  \coordinate (pdh-m2) at (414,962.4);
  \draw[rx=3.5pt, pkC, sgap, -tipF] (pyr) -- (accoa);
  \draw[rx=3.5pt, pkC] (pdh-m1) .. controls (358,962.4) and (350,958) .. (pdh-coa);
  \draw[rx=3.5pt, pkC] (pdh-m1) .. controls (361,961) and (359.3,952) .. (pdh-nad);
  \draw[rx=3.5pt, pkC, -tipF] (pdh-m2) .. controls (420,962) and (422.8,956) .. (pdh-co2);
  \draw[rx=3.5pt, pkC, -tipF] (pdh-m2) .. controls (426,962) and (432,957) .. (pdh-nadh);
  \coordinate (pfl-m1) at (328,976);
  \coordinate (pfl-m2) at (368,976.5);
  \draw[rx=3.5pt, pkA, sgap, -tipF] (pyr) .. controls (292,975) and (305,976) .. (pfl-m1) %
    -- (pfl-m2) .. controls (410,976.5) and (430,972) .. (accoa);
  \draw[rx=3.5pt, pkA] (pfl-m1) .. controls (318,976) and (310,980) .. (pfl-coa);
  \draw[rx=3.5pt, pkA, -tipF] (pfl-m2) .. controls (380,976.5) and (384.4,982) .. (forC);
  \coordinate (exfor-c) at (384.1,1222.3);
  \draw[rx=3pt, pkA, sgap] (forE) -- (exfor-c);

  % TCA section: connections
  \coordinate (me-m1) at (617,800.3);
  \coordinate (me-m2) at (580,818);
  \draw[rx=3pt, pkC, sgap, tipO-tipF] (mal) -- (pyr);
  \draw[rx=3pt, pkC] (me-m1) .. controls (627,795.5) and (633,800) .. (me2-nadp);
  \draw[rx=3pt, pkC, -tipF] (me-m2) .. controls (574,825) and (575,835) .. (me2-nadph);
  \draw[rx=3pt, pkC, -tipF] (me-m2) .. controls (580,828) and (585,838) .. (me2-co2);
  \coordinate (mdh-m1) at (680,800);
  \coordinate (mdh-m2) at (679,832);
  \draw[rx=3.5pt, pkD, sgap, tipO-tipF] (mal) .. controls (676,805) and (680,875) .. (oaa);
  \draw[rx=3.5pt, pkD, -tipO] (mdh-m1) .. controls (681,793) and (688,793) .. (mdh-nad);
  \draw[rx=3.5pt, pkD, -tipF] (mdh-m2) .. controls (681,842) and (688,847) .. (mdh-h);
  \draw[rx=3.5pt, pkD, -tipF] (mdh-m2) .. controls (684,855) and (694,864) .. (mdh-nadh);
  \coordinate (mals-m1) at (801,835.5);
  \coordinate (mals-m2) at (745,798.2);
  \draw[rx=3pt, pkD, sgap, -tipF] (glx) -- (mal);
  \draw[rx=3pt, pkD] (mals-m1) .. controls (808,828) and (812,820) .. (mals-accoa);
  \draw[rx=3pt, pkD] (mals-m1) .. controls (812,840) and (825,840) .. (mals-h2o);
  \draw[rx=3pt, pkD, -tipF] (mals-m2) .. controls (735,790) and (733,775) .. (mals-coa);
  \draw[rx=3pt, pkD, -tipF] (mals-m2) .. controls (748,786) and (752,779) .. (mals-h);
  \coordinate (fum-m) at (731,714);
  \draw[rx=3.5pt, pkD, sgap, tipO-tipF] (fum) -- (mal);
  \draw[rx=3.5pt, pkD, -tipO] (fum-m) .. controls (726,706) and (722,700) .. (fum-h2o);
  \coordinate (sucd-m1) at (845,661.5);
  \coordinate (sucd-m2) at (806,664);
  \draw[rx=3.5pt, pkD, sgap, -tipF] (succ) .. controls (870,655) and (800,652) .. (fum);
  \draw[rx=3.5pt, pkD] (sucd-m1) .. controls (848,655) and (847.7,650) .. (sucd-q8);
  \draw[rx=3.5pt, pkD, -tipF] (sucd-m2) .. controls (800,662) and (797.1,658) .. (sucd-q8h2);
  \draw[rx=2pt, faint, sgap] (fum) .. controls (760,600) and (870,570) .. (succ);
  \coordinate (cs-m1) at (733,944);
  \coordinate (cs-m2) at (757,961);
  \draw[rx=3.5pt, pkD] (cs-m1) .. controls (712,922) .. (oaa);
  \draw[rx=3.5pt, pkD] (cs-m1) .. controls (650,885) and (458,900) .. (accoa);
  \draw[rx=3.5pt, pkD, -tipF] (cs-m1) .. controls (750,958) and (762,966) .. (cit);
  \draw[rx=3.5pt, pkD] (cs-m1) .. controls (722,935) and (705,930) .. (cs-h2o);
  \draw[rx=3.5pt, pkD, -tipF] (cs-m2) .. controls (754,975) and (750,985) .. (cs-coa);
  \draw[rx=3.5pt, pkD, -tipF] (cs-m2) .. controls (762,975) and (765,990) .. (cs-h);
  \coordinate (acta-m) at (815,986);
  \coordinate (actb-m) at (868,986.5);
  \draw[rx=3.5pt, pkD, sgap, tipO-tipF] (cit) .. controls (805,984) and (825,990) .. (acon);
  \draw[rx=3.5pt, pkD, -tipF] (acta-m) .. controls (826,982) and (830,972) .. (acon-h2o);
  \draw[rx=3.5pt, pkD, sgap, tipO-tipF] (acon) .. controls (870,990) and (885,980) .. (icit);
  \draw[rx=3.5pt, pkD, -tipO] (actb-m) .. controls (860,982) and (856,972) .. (acon-h2o);
  \coordinate (icl-m) at (901.5,905);
  \draw[rx=3pt, pkD, sgap, -tipF] (icit) -- (succ);
  \draw[rx=3pt, pkD, -tipF] (icl-m) .. controls (901,878) and (870,866) .. (glx);
  \coordinate (icd-m1) at (925,955.7);
  \coordinate (icd-m2) at (975,907);
  \draw[rx=3pt, pkC, sgap, tipO-tipF] (icit) .. controls (950,945) and (975,915) .. (akg);
  \draw[rx=3pt, pkC, -tipO] (icd-m1) .. controls (920,965) and (922,980) .. (icd-nadp);
  \draw[rx=3pt, pkC, -tipF] (icd-m2) .. controls (972,900) and (970,894) .. (icd-nadph);
  \draw[rx=3pt, pkC, -tipF] (icd-m2) .. controls (968,905) and (962,902) .. (icd-co2);
  \coordinate (akgdh-m1) at (996.5,848);
  \coordinate (akgdh-m2) at (997,795);
  \draw[rx=3pt, pkC, sgap, -tipF] (akg) .. controls (999,830) and (996,800) .. (succoa);
  \draw[rx=3pt, pkC] (akgdh-m1) .. controls (990,846) and (982,846) .. (akgdh-coa);
  \draw[rx=3pt, pkC] (akgdh-m1) .. controls (992,856) and (982,859.7) .. (akgdh-nad);
  \draw[rx=3pt, pkC, -tipF] (akgdh-m2) .. controls (998,782) and (1000,776) .. (akgdh-nadh);
  \draw[rx=3pt, pkC, -tipF] (akgdh-m2) .. controls (998,788) and (1008,787.4) .. (akgdh-co2);
  \coordinate (sucoas-m1) at (943,701);
  \coordinate (sucoas-m2) at (972,735);
  \draw[rx=3.5pt, lavB, sgap, tipO-tipF] (succoa) .. controls (972,730) and (945,692) .. (succ);
  \draw[rx=3.5pt, lavB, -tipF] (sucoas-m1) .. controls (935,698) and (928,700) .. (sucoas-coa);
  \draw[rx=3.5pt, lavB, -tipF] (sucoas-m1) .. controls (935,705) and (928,712) .. (sucoas-atp);
  \draw[rx=3.5pt, lavB, -tipO] (sucoas-m2) .. controls (980,733) and (988,727) .. (sucoas-pi);
  \draw[rx=3.5pt, lavB, -tipO] (sucoas-m2) .. controls (978,740) and (985,742.7) .. (sucoas-adp);

  % Nitrogen section: connections
  \coordinate (akgt-m1) at (1182,772);
  \coordinate (akgt-m2) at (1274,772.2);
  \coordinate (exakg-c) at (1335,772.2);
  \draw[rx=3pt, lavC, sgap, -tipF] (akg) .. controls (1040,800) and (1100,772) .. (akgt-m1) -- (akgE);
  \draw[rx=3pt, lavC] (akgt-m1) .. controls (1182,780) and (1181.5,788) .. (akgt-hc);
  \draw[rx=3pt, lavC, -tipF] (akgt-m2) .. controls (1277,778) and (1277.4,785) .. (akgt-he);
  \draw[rx=2.5pt, lavC] (exakg-c) -- (akgE);
  \coordinate (gludy-m1) at (1058,878.5);
  \coordinate (gludy-m2) at (1098,879);
  \draw[rx=3pt, lavC, sgap, -tipF] (akg) -- (glu);
  \draw[rx=3pt, lavC] (gludy-m1) .. controls (1048,878.5) and (1041.2,872) .. (gludy-nh4);
  \draw[rx=3pt, lavC] (gludy-m1) .. controls (1055,878.5) and (1054.5,872) .. (gludy-nadph);
  \draw[rx=3pt, lavC] (gludy-m1) .. controls (1064,878.5) and (1067.8,872) .. (gludy-h);
  \draw[rx=3pt, lavC, -tipF] (gludy-m2) .. controls (1095,878.5) and (1094.3,872) .. (gludy-nadp);
  \draw[rx=3pt, lavC, -tipF] (gludy-m2) .. controls (1104,878.5) and (1107.6,872) .. (gludy-h2o);
  \coordinate (glut-m1) at (1183,879.5);
  \coordinate (glut-m2) at (1270,880);
  \coordinate (exglu-c) at (1322,880);
  \draw[rx=3pt, lavC, sgap, -tipF] (glu) -- (gluE);
  \draw[rx=3pt, lavC] (glut-m1) .. controls (1183,882) and (1183.3,886) .. (glut-hc);
  \draw[rx=3pt, lavC, -tipF] (glut-m2) .. controls (1275,882) and (1275,888) .. (glut-he);
  \draw[rx=2.5pt, lavC] (exglu-c) -- (gluE);

  % Energy section: connections
  \coordinate (ntr-m1) at (914,253.1);
  \coordinate (ntr-m2) at (946,253.1);
  \draw[rx=3pt, pkC, sgap, -tipF] (nadph) -- (nadp);
  \draw[rx=3pt, pkC, -tipF] (ntr-m1) .. controls (904,253.1) and (903,245) .. (nadh);
  \draw[rx=3pt, pkC] (ntr-m2) .. controls (956,253.1) and (957.5,242) .. (nad);
  \coordinate (atpm-m1) at (1113.4,234);
  \coordinate (atpm-m2) at (1113.4,272);
  \draw[rx=6.5pt, dpink, sgap, -tipFb] (atp) -- (adp);
  \draw[rx=6.5pt, dpink] (atpm-m1) .. controls (1113.4,222) and (1118,218.4) .. (atpm-h2o);
  \draw[rx=6.5pt, dpink, -tipFb] (atpm-m2) .. controls (1113.4,280) and (1118,282.2) .. (atpm-h);
  \draw[rx=6.5pt, dpink, -tipFb] (atpm-m2) .. controls (1113.4,292) and (1118,300.8) .. (atpm-pi);
  \coordinate (atps-m1) at (1232,221.2);
  \coordinate (atps-m2) at (1205,221.2);
  \coordinate (atps-r) at (1268,262);
  \draw[rx=4.5pt, pinkATPS, sgap, -tipFm] (atps-he) -- (atps-hc);
  \draw[rx=4.5pt, pinkATPS, -tipFm] (atps-m1) .. controls (1180,221.2) and (1155,196) .. (atp);
  \draw[rx=4.5pt, pinkATPS, -tipFm] (atps-m2) .. controls (1195,221) and (1188,205) .. (atps-h2o);
  \draw[rx=4.5pt, pinkATPS, -tipOm] (atps-m1) .. controls (1280,221.2) and (1264,269) .. (atps-pi);
  \draw[rx=4.5pt, pinkATPS, -tipOm] (atps-m1) .. controls (1282,221.2) and (1270,240) .. (atps-r) %
    .. controls (1264,298) and (1215,316.8) .. (adp);

  % Respiration section: connections
  \coordinate (exo2-c) at (1313.5,356.7);
  \draw[rx=4pt, pinkO2, sgap, tipOm-tipFm] (o2E) -- (o2C);
  \draw[rx=6.5pt, blueB, -tipFb] (exo2-c) -- (o2E);
  \coordinate (cyt-m1) at (1203,419.5);
  \coordinate (cyt-m2) at (1236,419.8);
  \coordinate (cyt-m3) at (1248,420);
  \draw[rx=4.5pt, pinkCYT, sgap, -tipFm] (cyt-hc) -- (cyt-he);
  \draw[rx=4.5pt, pinkCYT] (cyt-m1) .. controls (1180,418) and (1158,395) .. (o2C);
  \draw[rx=4.5pt, pinkCYT] (cyt-m1) .. controls (1180,421) and (1170,455) .. (q8h2);
  \draw[rx=4.5pt, pinkCYT, -tipFm] (cyt-m2) .. controls (1285,419) and (1280,383.4) .. (cyt-h2o);
  \draw[rx=4.5pt, pinkCYT, -tipFm] (cyt-m3) .. controls (1272,422) and (1272,470) .. (q8);
  \coordinate (nadh16-m1) at (1215,598);
  \coordinate (nadh16-m2) at (1250,598);
  \draw[rx=4pt, pinkNADH, sgap, -tipFm] (nadh16-hc) -- (nadh16-he);
  \draw[rx=4pt, pinkNADH] (nadh16-m1) .. controls (1195,598) and (1180,590) .. (nadh16-nadh);
  \draw[rx=4pt, pinkNADH] (nadh16-m1) .. controls (1213,580) and (1240,540) .. (q8);
  \draw[rx=4pt, pinkNADH, -tipFm] (nadh16-m2) .. controls (1245,588) and (1205,545) .. (q8h2);
  \draw[rx=4pt, pinkNADH, -tipFm] (nadh16-m2) .. controls (1292,600) and (1278,620) .. (nadh16-nad);
  \coordinate (exh-c) at (1317.5,507.6);
  \draw[rx=3.5pt, pinkEXh, -tipO] (exh-c) -- (hE);

  % Transport section: connections
  \coordinate (exh2o-c) at (859.8,1222);
  \coordinate (exco2-c) at (956.4,1219.1);
  \coordinate (exnh4-c) at (1053.6,1222);
  \draw[rx=5pt, blueB, sgap, tipOm-tipFm] (h2oC) -- (h2oE);
  \draw[rx=4pt, blueC, sgap, tipOm-tipFm] (co2C) -- (co2E);
  \draw[rx=3pt, lavC, sgap, -tipF] (nh4E) -- (nh4C);
  \draw[rx=3.5pt, pinkEXhtwo, -tipO] (exh2o-c) -- (h2oE);
  \draw[rx=3pt, pinkEXco, -tipO] (exco2-c) -- (co2E);
  \draw[rx=3pt, lavC, -tipO] (exnh4-c) -- (nh4E);
\end{tikzpicture}
\end{document}
